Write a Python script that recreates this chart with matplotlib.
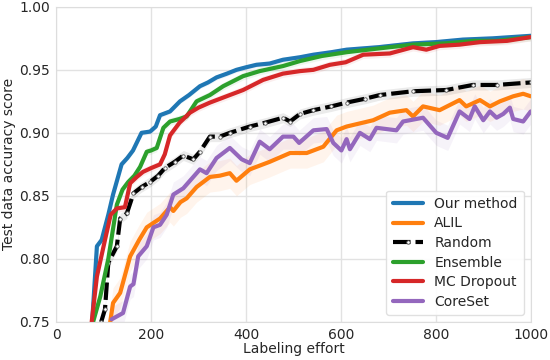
import numpy as np
import matplotlib
matplotlib.use("Agg")
import matplotlib.pyplot as plt
import seaborn as sns

sns.set_style("whitegrid")
plt.rcParams['font.family'] = ['DejaVu Sans']

# Our method
ours_x = [76, 86, 96, 110, 120, 138, 150, 162, 180, 198, 210, 219, 240, 261, 280, 303, 320, 338, 360, 380,
          400, 422, 450, 478, 514, 542, 580, 612, 680, 752, 800, 857, 920, 1000]
ours_y = [0.75, 0.81, 0.815, 0.835, 0.851, 0.875, 0.88, 0.886, 0.90, 0.901, 0.905, 0.914, 0.917, 0.925, 0.930,
          0.937, 0.940, 0.944, 0.947, 0.95, 0.952, 0.954, 0.955, 0.958, 0.96, 0.962, 0.964, 0.966, 0.968, 0.971,
          0.972, 0.974, 0.975, 0.977]
# ALIL
alil_x = [114, 120, 135, 156, 175, 191, 219, 240, 247, 262, 275, 296, 324, 345, 366, 380, 408, 436, 450, 493,
          528, 563, 591, 612, 668, 703, 738, 752, 773, 808, 850, 864, 893, 914, 935, 963, 984, 1000]
alil_y = [0.75, 0.765, 0.773, 0.802, 0.815, 0.825, 0.832, 0.841, 0.838, 0.845, 0.848, 0.857, 0.865, 0.866, 0.868,
          0.862, 0.871, 0.875, 0.877, 0.884, 0.884, 0.889, 0.902, 0.905, 0.91, 0.916, 0.918, 0.913, 0.921, 0.918,
          0.926, 0.921, 0.926, 0.921, 0.925, 0.929, 0.931, 0.929]
# Random
rand_x = [95, 103, 110, 128, 135, 149, 163, 180, 198, 215, 229, 250, 268, 289, 303, 324, 345, 366, 408, 440,
          478, 493, 514, 542, 580, 612, 650, 682, 752, 822, 878, 928, 1000]
rand_y = [0.75, 0.76, 0.797, 0.81, 0.832, 0.836, 0.852, 0.857, 0.861, 0.866, 0.872, 0.877, 0.882, 0.879, 0.885,
          0.897, 0.897, 0.90, 0.905, 0.908, 0.912, 0.909, 0.915, 0.918, 0.921, 0.924, 0.927, 0.93, 0.933, 0.934,
          0.938, 0.938, 0.94]
# Ensemble
ens_x = [78, 93, 110, 128, 140, 152, 165, 177, 191, 200, 212, 226, 240, 260, 275, 296, 324, 352, 394, 429,
         478, 514, 560, 612, 680, 752, 820, 880, 928, 1000]
ens_y = [0.75, 0.77, 0.80, 0.843, 0.855, 0.861, 0.866, 0.873, 0.885, 0.886, 0.888, 0.904, 0.909, 0.911, 0.913,
         0.925, 0.93, 0.937, 0.945, 0.949, 0.953, 0.957, 0.961, 0.964, 0.967, 0.970, 0.971, 0.973, 0.973, 0.976]
# MC Dropout
mc_x = [75, 86, 103, 115, 128, 145, 156, 170, 183, 200, 219, 229, 240, 260, 282, 300, 324, 352, 394, 436,
        478, 514, 542, 577, 610, 647, 703, 752, 780, 808, 850, 893, 950, 1000]
mc_y = [0.75, 0.786, 0.815, 0.835, 0.84, 0.841, 0.86, 0.865, 0.869, 0.872, 0.875, 0.883, 0.898, 0.908, 0.916,
        0.920, 0.924, 0.928, 0.934, 0.942, 0.947, 0.949, 0.95, 0.954, 0.956, 0.962, 0.963, 0.968, 0.966, 0.969,
        0.970, 0.972, 0.973, 0.976]
# CoreSet
core_x = [117, 141, 156, 163, 173, 191, 205, 219, 233, 247, 268, 289, 303, 317, 338, 359, 366, 391, 408, 429,
          450, 478, 500, 512, 542, 570, 584, 601, 612, 619, 640, 661, 675, 717, 731, 773, 801, 825, 850, 871,
          882, 900, 914, 928, 942, 956, 963, 984, 1000]
core_y = [0.752, 0.757, 0.778, 0.78, 0.802, 0.81, 0.825, 0.827, 0.835, 0.851, 0.856, 0.865, 0.871, 0.868, 0.88,
          0.886, 0.888, 0.879, 0.876, 0.893, 0.887, 0.897, 0.897, 0.892, 0.902, 0.903, 0.892, 0.886, 0.895, 0.887,
          0.90, 0.895, 0.904, 0.902, 0.909, 0.912, 0.90, 0.896, 0.917, 0.911, 0.921, 0.91, 0.917, 0.912, 0.915,
          0.92, 0.911, 0.909, 0.917]

# rough spread of the shaded bands
spread = {'Our method': 0.002, 'ALIL': 0.012, 'Random': 0.004, 'Ensemble': 0.003, 'MC Dropout': 0.003,
          'CoreSet': 0.010}

series = [
    ('Our method', ours_x, ours_y, '#1f77b4'),
    ('ALIL', alil_x, alil_y, '#ff7f0e'),
    ('Random', rand_x, rand_y, 'black'),
    ('Ensemble', ens_x, ens_y, '#2ca02c'),
    ('MC Dropout', mc_x, mc_y, '#d62728'),
    ('CoreSet', core_x, core_y, '#9467bd'),
]

fig = plt.figure(figsize=(5.5, 3.6), dpi=100)
ax = fig.add_axes([0.102, 0.106, 0.863, 0.875])

for name, x, y, c in series:
    x = np.array(x)
    y = np.array(y)
    s = spread[name]
    ax.fill_between(x, y - s, y + s, color=c, alpha=0.08, lw=0)
    if name == 'Random':
        ax.plot(x, y, color=c, lw=3, ls='--', dashes=(4.2, 1.2), marker='o', ms=2.5,
                mfc='white', mec='#555555', mew=0.6, label=name)
    else:
        ax.plot(x, y, color=c, lw=3, label=name)

ax.set_xlim(0, 1000)
ax.set_ylim(0.75, 1.0)
ax.set_xticks([0, 200, 400, 600, 800, 1000])
ax.set_yticks([0.75, 0.80, 0.85, 0.90, 0.95, 1.00])
ax.set_yticklabels(['0.75', '0.80', '0.85', '0.90', '0.95', '1.00'])
ax.tick_params(labelsize=10, colors='#262626', pad=1)
ax.set_xlabel('Labeling effort', fontsize=10, labelpad=0, color='#262626')
ax.set_ylabel('Test data accuracy score', fontsize=10, labelpad=2, color='#262626')
for sp in ax.spines.values():
    sp.set_color('#dddddd')
ax.grid(color='#e2e2e2', lw=1)

ax.legend(loc='lower right', fontsize=10, frameon=True, handlelength=2.2, borderpad=0.45,
          labelspacing=0.4, framealpha=0.9, edgecolor='#dddddd')

fig.savefig('out.png', dpi=100)
